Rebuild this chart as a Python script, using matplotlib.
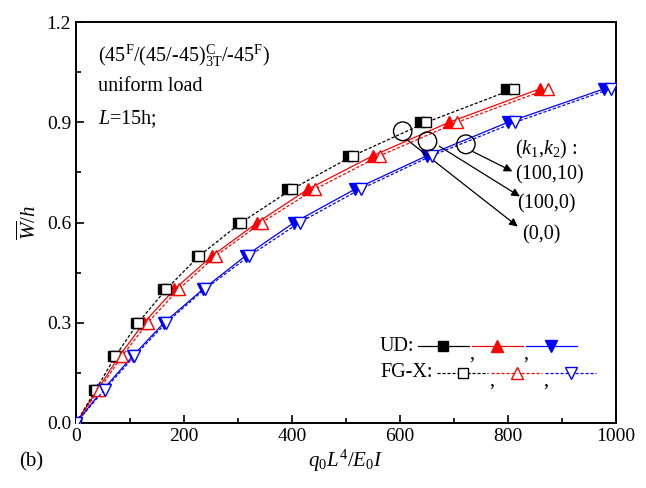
import matplotlib
matplotlib.use("Agg")
import matplotlib.pyplot as plt
from matplotlib.lines import Line2D
from matplotlib.patches import Ellipse

plt.rcParams['font.family'] = 'Liberation Serif'
plt.rcParams['mathtext.fontset'] = 'custom'
plt.rcParams['mathtext.rm'] = 'Liberation Serif'
plt.rcParams['mathtext.it'] = 'Liberation Serif:italic'
plt.rcParams['mathtext.bf'] = 'Liberation Serif:bold'

# deflection levels W/h
w_h = [0.0, 0.1, 0.2, 0.3, 0.4, 0.5, 0.6, 0.7, 0.8, 0.9, 1.0]

# load q0 L^4 / E0 I  -- UD (solid, filled) and FG-X (dashed, open)
ud_00 = [0, 33, 69, 111, 161, 224, 300, 390, 504, 637, 796]
fg_00 = [0, 37, 73, 115, 167, 228, 306, 400, 513, 649, 811]
ud_100_0 = [0, 40, 80, 126, 182, 252, 336, 430, 550, 691, 859]
fg_100_0 = [0, 43, 85, 133, 190, 259, 344, 443, 563, 706, 874]
ud_100_10 = [0, 50, 105, 163, 235, 314, 404, 517, 650, 800, 978]
fg_100_10 = [0, 53, 108, 167, 238, 321, 414, 527, 659, 813, 990]

colors = ['black', 'red', 'blue']
ud_markers = ['s', '^', 'v']
ud_sizes = [6.5, 9, 9]
ud_sets = [ud_00, ud_100_0, ud_100_10]
fg_sets = [fg_00, fg_100_0, fg_100_10]

fig = plt.figure(figsize=(6.46, 4.88), dpi=100)
ax = fig.add_axes([0.1176, 0.1332, 0.836, 0.8217])

for i, (c, m, ms, ud, fg) in enumerate(zip(colors, ud_markers, ud_sizes, ud_sets, fg_sets)):
    # in the original the black UD line is hidden under the dashed one
    ls_ud = 'none' if i == 0 else '-'
    ax.plot(ud, w_h, color=c, lw=0.9, ls=ls_ud, marker=m, ms=ms, mfc=c, mec=c, zorder=3)
    ax.plot(fg, w_h, color=c, lw=0.9, ls=(0, (2.5, 1.5)), marker=m, ms=ms,
            mfc='white', mec=c, mew=1.0, zorder=4)

ax.set_xlim(0, 1000)
ax.set_ylim(0, 1.2)
ax.set_xticks([0, 200, 400, 600, 800, 1000])
ax.set_xticks([100, 300, 500, 700, 900], minor=True)
ax.set_yticks([0.0, 0.3, 0.6, 0.9, 1.2])
ax.set_yticks([0.15, 0.45, 0.75, 1.05], minor=True)
ax.set_yticklabels(['0.0', '0.3', '0.6', '0.9', '1.2'])
ax.tick_params(which='both', direction='in', top=False, right=False,
               labelsize=14, width=1.2)
ax.tick_params(which='major', length=6)
ax.tick_params(which='minor', length=3.5)
for s in ax.spines.values():
    s.set_linewidth(1.4)

ax.set_xlabel(r'$q_0L^4/E_0I$', fontsize=15, labelpad=2)
ax.set_ylabel(r'$\overline{W}/h$', fontsize=15, labelpad=4)

# text block
ax.text(0.04, 0.915, r'(45$^{\rm F}$/(45/-45)$^{\rm C}_{\rm 3T}$/-45$^{\rm F}$)',
        transform=ax.transAxes, fontsize=14.5, va='center')
ax.text(0.04, 0.84, 'uniform load', transform=ax.transAxes, fontsize=14.5, va='center')
ax.text(0.04, 0.757, r'$L$=15h;', transform=ax.transAxes, fontsize=14.5, va='center')
fig.text(0.03, 0.045, '(b)', fontsize=15)

# circles and arrows
circles = [(605, 0.873), (651, 0.843), (722, 0.834)]
arrow_starts = [(612, 0.849), (673, 0.828), (734, 0.813)]
arrow_ends = [(818, 0.588), (822, 0.678), (808, 0.753)]
for (cx, cy) in circles:
    ax.add_patch(Ellipse((cx, cy), 34, 0.056, fill=False, ec='black', lw=1.0, zorder=6))
for s, e in zip(arrow_starts, arrow_ends):
    ax.annotate('', xy=e, xytext=s,
                arrowprops=dict(arrowstyle='-|>', color='black', lw=0.9,
                                mutation_scale=12, shrinkA=0, shrinkB=0))
ax.text(813, 0.82, r'$(k_1$,$k_2)$ :', fontsize=14.5, va='center')
ax.text(813, 0.743, '(100,10)', fontsize=14.5, va='center')
ax.text(817, 0.655, '(100,0)', fontsize=14.5, va='center')
ax.text(827, 0.562, '(0,0)', fontsize=14.5, va='center')

# custom legend
rows = [('UD:', 0.192, '-', True), ('FG-X:', 0.125, (0, (2.5, 1.5)), False)]
for label, yy, ls, filled in rows:
    ax.text(0.563, yy, label, transform=ax.transAxes, fontsize=14.5, va='center')
    x0 = 0.633 if filled else 0.669
    for i, (c, m, ms) in enumerate(zip(colors, ud_markers, ud_sizes)):
        xs = x0 + i * 0.1
        ax.add_line(Line2D([xs, xs + 0.094], [yy, yy], transform=ax.transAxes,
                           color=c, lw=0.9, ls=ls))
        ax.add_line(Line2D([xs + 0.047], [yy], transform=ax.transAxes, color=c,
                           marker=m, ms=ms, mfc=c if filled else 'white', mec=c))
        if i < 2:
            ax.text(xs + 0.096, yy - 0.02, ',', transform=ax.transAxes,
                    fontsize=14.5, va='center')

fig.savefig('out.png', dpi=100)
